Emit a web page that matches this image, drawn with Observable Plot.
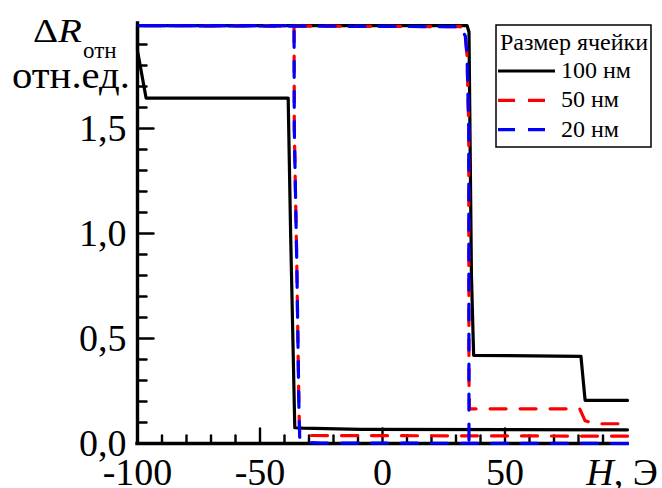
<!DOCTYPE html>
<html><head><meta charset="utf-8">
<script src="https://cdn.jsdelivr.net/npm/d3@7"></script>
<script src="https://cdn.jsdelivr.net/npm/@observablehq/plot@0.6"></script>
<style>
body{margin:0;background:#fff;}
#chart svg{display:block;}
</style></head><body><div id="chart"></div>
<script>
// Axis ticks
const xTicks = [-100, -50, 0, 50];
const xTickLabels = ["-100", "-50", "0", "50"];
const xMinorTicks = [-90,-80,-70,-60,-40,-30,-20,-10,10,20,30,40,60,70,80,90];
const yTicks = [0, 0.5, 1.0, 1.5];
const yTickLabels = ["0,0", "0,5", "1,0", "1,5"];
const yMinorTicks = [0.1,0.2,0.3,0.4,0.6,0.7,0.8,0.9,1.1,1.2,1.3,1.4,1.6,1.7,1.8,1.9];

// Series (H, Э  ->  ΔR отн)
const seriesNames = ["100 нм", "50 нм", "20 нм"];
const seriesColors = ["#000000", "#ff0000", "#0000ff"];

const h100 = [100, -9, -32.5, -35.8, -37.5, -38.5, -96.5, -100, -100, 34.5, 35.3, 36.3, 37.2, 81, 82.7, 100];
const r100 = [0.065, 0.067, 0.073, 0.075, 1.0, 1.645, 1.645, 1.87, 1.99, 1.99, 1.96, 0.8, 0.42, 0.415, 0.205, 0.205];

const h50 = [100, -30, -33.8, -34.1, -35.0, -36.0, -36.1, -100, -100, 31.8, 33.8, 34.5, 35.2, 35.3, 35.5, 80.5, 82.7, 87, 100];
const r50 = [0.035, 0.038, 0.045, 0.16, 0.87, 1.5, 1.99, 1.99, 1.99, 1.985, 1.94, 1.85, 1.5, 0.3, 0.165, 0.165, 0.108, 0.094, 0.094];

const h20 = [100, -25, -32, -33.8, -34.1, -35.0, -36.0, -36.1, -100, -100, 31.8, 33.8, 34.5, 35.2, 35.3];
const r20 = [0.0, 0.002, 0.006, 0.03, 0.16, 0.87, 1.5, 1.99, 1.99, 1.99, 1.985, 1.94, 1.85, 1.5, 0.0];

const seriesH = [h100, h50, h20];
const seriesR = [r100, r50, r20];
const rows = seriesH.map((hs, k) => hs.map((h, i) => ({H: h, R: seriesR[k][i], size: seriesNames[k]})));

const serif = "'Liberation Serif', 'Times New Roman', serif";
const fmtX = d => xTickLabels[xTicks.indexOf(d)];
const fmtY = d => yTickLabels[yTicks.indexOf(d)];
const tickShape = {draw(context, l) { context.moveTo(0, 0); context.lineTo(0, -l); }};
const tickStyle = {stroke: "black", strokeWidth: 2.4, shape: tickShape, anchor: "start"};

const plot = Plot.plot({
  width: 662, height: 488,
  marginLeft: 137, marginRight: 35, marginTop: 23, marginBottom: 45,
  x: {domain: [-100, 100]},
  y: {domain: [0, 2.0]},
  style: {fontFamily: serif, background: "white", color: "black", overflow: "visible"},
  marks: [
    Plot.axisX(xTicks, {tickSize: 0, tickPadding: 15, fontSize: 38, tickFormat: fmtX, label: null}),
    Plot.axisY(yTicks, {tickSize: 0, tickPadding: 11, fontSize: 38, tickFormat: fmtY, label: null}),
    Plot.vector(xMinorTicks, {x: d => d, y: d => 0, length: 8, rotate: 0, ...tickStyle}),
    Plot.vector(xTicks, {x: d => d, y: d => 0, length: 15, rotate: 0, ...tickStyle}),
    Plot.vector(yMinorTicks, {x: d => -100, y: d => d, length: 9, rotate: 90, ...tickStyle}),
    Plot.vector(yTicks, {x: d => -100, y: d => d, length: 16, rotate: 90, ...tickStyle}),
    Plot.ruleX([-100], {strokeWidth: 3.4, strokeLinecap: "square"}),
    Plot.ruleY([0], {strokeWidth: 3.4, strokeLinecap: "square"}),
    Plot.line(rows[0], {x: "H", y: "R", stroke: seriesColors[0], strokeWidth: 3.2}),
    Plot.line(rows[1], {x: "H", y: "R", stroke: seriesColors[1], strokeWidth: 3.2, strokeDasharray: "16,14"}),
    Plot.line(rows[2], {x: "H", y: "R", stroke: seriesColors[2], strokeWidth: 3.2, strokeDasharray: "16,14"})
  ]
});
document.getElementById("chart").appendChild(plot);

const svg = d3.select(plot);
const sx = plot.scale("x");
const g = svg.append("g").attr("font-family", serif).attr("fill", "black").attr("text-anchor", "start");

// Y-axis title
const t1 = g.append("text").attr("x", 33).attr("y", 42).attr("font-size", 33)
  .attr("textLength", 49).attr("lengthAdjust", "spacingAndGlyphs");
t1.append("tspan").text("Δ");
t1.append("tspan").attr("font-style", "italic").text("R");
g.append("text").attr("x", 83).attr("y", 58).attr("font-size", 23).text("отн");
g.append("text").attr("x", 12).attr("y", 88).attr("font-size", 38)
  .attr("textLength", 118).attr("lengthAdjust", "spacingAndGlyphs").text("отн.ед.");

// X-axis title at the 100 position
const xt = g.append("text").attr("x", sx.apply(100) - 5).attr("y", 485).attr("font-size", 38).attr("text-anchor", "middle");
xt.append("tspan").attr("font-style", "italic").text("H");
xt.append("tspan").text(", Э");

// Legend
const lg = g.append("g");
lg.append("rect").attr("x", 496).attr("y", 25).attr("width", 155).attr("height", 122)
  .attr("fill", "white").attr("stroke", "black").attr("stroke-width", 1.5);
lg.append("text").attr("x", 500).attr("y", 50).attr("font-size", 24).text("Размер ячейки");
seriesNames.forEach((name, i) => {
  const base = 78 + i * 29.3;
  lg.append("line").attr("x1", 498).attr("x2", i === 0 ? 555 : 546)
    .attr("y1", base - 7).attr("y2", base - 7)
    .attr("stroke", seriesColors[i]).attr("stroke-width", 3.2)
    .attr("stroke-dasharray", i === 0 ? null : "17,13");
  lg.append("text").attr("x", 561).attr("y", base).attr("font-size", 24).text(name);
});
</script></body></html>
